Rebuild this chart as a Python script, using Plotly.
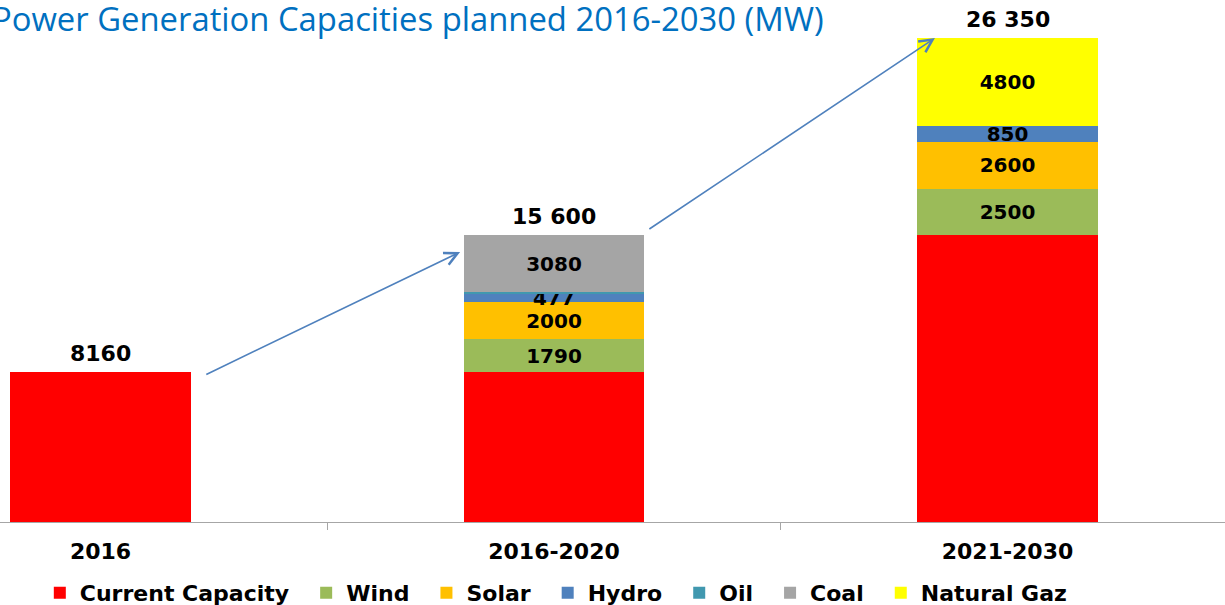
import plotly.graph_objects as go

categories = ['2016', '2016-2020', '2021-2030']
current_capacity = [8160, 8160, 15600]
wind = [0, 1790, 2500]
solar = [0, 2000, 2600]
hydro = [0, 477, 850]
oil = [0, 93, 0]
coal = [0, 3080, 0]
natural_gaz = [0, 0, 4800]
totals = ['8160', '15 600', '26 350']

series = [
    ('Current Capacity', current_capacity, '#FF0000', False),
    ('Wind', wind, '#9BBB59', True),
    ('Solar', solar, '#FFC000', True),
    ('Hydro', hydro, '#4F81BD', True),
    ('Oil', oil, '#4198AF', False),
    ('Coal', coal, '#A5A5A5', True),
    ('Natural Gaz', natural_gaz, '#FFFF00', True),
]

xpos = list(range(len(categories)))
font_family = 'DejaVu Sans'
pad = '\u00a0\u2009'  # a little extra room between legend entries

fig = go.Figure()
for name, vals, color, labelled in series:
    txt = [str(v) if (labelled and v > 0) else '' for v in vals]
    fig.add_trace(go.Bar(
        x=xpos, y=vals, name=name + pad, marker=dict(color=color, line=dict(width=0)),
        width=0.399, text=txt, texttemplate='%{text}', textposition='inside',
        insidetextanchor='middle', textangle=0,
        textfont=dict(family=font_family, size=20, color='black', weight='bold'),
        hoverinfo='skip',
    ))

stack_tops = [sum(s[1][i] for s in series) for i in xpos]
for i in xpos:
    fig.add_annotation(x=i, y=stack_tops[i], text='<b>%s</b>' % totals[i], showarrow=False,
                       yanchor='bottom', yshift=4,
                       font=dict(family=font_family, size=22, color='black'))

# growth arrows
arrow_style = dict(showarrow=True, arrowhead=5, arrowsize=1.6, arrowwidth=1.6,
                   arrowcolor='#4F81BD', xref='x', yref='y', axref='x', ayref='y', text='')
fig.add_annotation(x=0.793, y=14690, ax=0.230, ay=7990, **arrow_style)
fig.add_annotation(x=1.840, y=26330, ax=1.207, ay=15885, **arrow_style)

# title (partly cut at the left edge, as in the source slide)
fig.add_annotation(text='Power Generation Capacities planned 2016-2030 (MW)',
                   x=-0.008, xref='paper', xanchor='left', y=1.0, yref='paper', yanchor='middle',
                   yshift=-18, showarrow=False,
                   font=dict(family='Open Sans', size=32.8, color='#0070C0'))

fig.update_layout(
    barmode='stack',
    width=1225, height=605,
    margin=dict(l=0, r=0, t=0, b=83),
    plot_bgcolor='white', paper_bgcolor='white',
    uniformtext=dict(minsize=20, mode='show'),
    xaxis=dict(range=[-0.2216, 2.4796], tickvals=xpos, ticktext=['<b>%s</b>' % c for c in categories],
               ticks='', showline=True, linecolor='#A6A6A6', linewidth=1, showgrid=False,
               zeroline=False, ticklabelstandoff=10, automargin=False,
               tickfont=dict(family=font_family, size=22, color='black'),
               minor=dict(tickvals=[0.5, 1.5], ticks='outside', ticklen=7, tickcolor='#A6A6A6', tickwidth=1)),
    yaxis=dict(range=[0, 28398], visible=False),
    showlegend=True,
    legend=dict(orientation='h', x=0.0325, xanchor='left', y=0.02, yanchor='middle', yref='container',
                font=dict(family=font_family, size=22, color='black', weight='bold'),
                traceorder='normal', itemwidth=30),
    font=dict(family=font_family),
)

fig.write_html('out.html', config={'displayModeBar': False},
               post_script="document.body.style.margin='0';")
